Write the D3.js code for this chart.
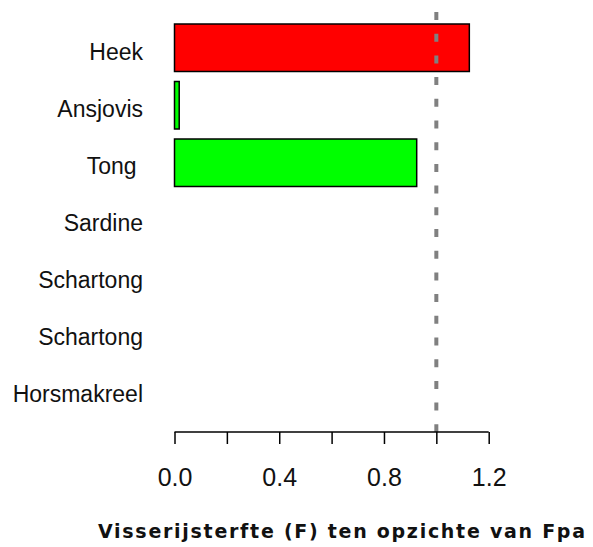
<!DOCTYPE html>
<html><head><meta charset="utf-8">
<script src="https://cdn.jsdelivr.net/npm/d3@7"></script>
<style>
html,body{margin:0;padding:0;background:#fff;}
svg{display:block;}
text{white-space:pre;}
</style>
</head><body>
<script>
const categories = ["Heek", "Ansjovis", "Tong ", "Sardine", "Schartong", "Schartong", "Horsmakreel"];
const values = [1.126, 0.018, 0.925, null, null, null, null];
const colors = ["#ff0000", "#00ff00", "#00ff00", "#00ff00", "#00ff00", "#00ff00", "#00ff00"];
const xTicks = [0, 0.2, 0.4, 0.6, 0.8, 1.0, 1.2];
const xTickLabels = ["0.0", "", "0.4", "", "0.8", "", "1.2"];
const refValue = 1.0;
const xTitle = "Visserijsterfte (F) ten opzichte van Fpa";

const W = 593, H = 547;
const svg = d3.select("body").append("svg").attr("width", W).attr("height", H);

const x = d3.scaleLinear().domain([0, 1.2]).range([174.5, 488.7]);
const ids = categories.map((d, i) => i);
const y = d3.scaleBand().domain(ids).range([19, 19 + 7 * 57.5]).paddingInner(0.174).paddingOuter(0.087);
const yLab = d3.scalePoint().domain(ids).range([60, 401.7]);

// bars
svg.append("g").selectAll("rect")
  .data(ids.filter(i => values[i] != null))
  .join("rect")
  .attr("x", x(0))
  .attr("y", i => y(i))
  .attr("width", i => x(values[i]) - x(0))
  .attr("height", y.bandwidth())
  .attr("fill", i => colors[i])
  .attr("stroke", "#000")
  .attr("stroke-width", 1.5);

// category labels
svg.append("g").selectAll("text")
  .data(ids)
  .join("text")
  .attr("x", 143)
  .attr("y", i => yLab(i))
  .attr("text-anchor", "end")
  .attr("font-family", "Liberation Sans, Arial, sans-serif")
  .attr("font-size", 23)
  .attr("fill", "#111")
  .text(i => categories[i]);

// reference dashed line
svg.append("line")
  .attr("x1", x(refValue)).attr("x2", x(refValue))
  .attr("y1", 12).attr("y2", 432)
  .attr("stroke", "#808080")
  .attr("stroke-width", 4)
  .attr("stroke-dasharray", "8,13.7");

// x axis
const axis = d3.axisBottom(x).tickValues(xTicks).tickSize(12).tickPadding(24)
  .tickFormat((d, i) => xTickLabels[i]);
const gx = svg.append("g").attr("transform", "translate(0,432)").call(axis);
gx.select(".domain").attr("d", `M${x(0)},0H${x(1.2)}`).attr("stroke", "#000").attr("stroke-width", 1.5);
gx.selectAll(".tick line").attr("stroke", "#000").attr("stroke-width", 1.5);
gx.selectAll(".tick text")
  .attr("font-family", "Liberation Sans, Arial, sans-serif")
  .attr("font-size", 25)
  .attr("fill", "#111");

// x title
svg.append("text")
  .attr("x", 98).attr("y", 538)
  .attr("font-family", "DejaVu Sans, Verdana, sans-serif")
  .attr("font-weight", "bold")
  .attr("font-size", 19)
  .attr("textLength", 487)
  .attr("lengthAdjust", "spacing")
  .attr("fill", "#111")
  .text(xTitle);
</script>
</body></html>
